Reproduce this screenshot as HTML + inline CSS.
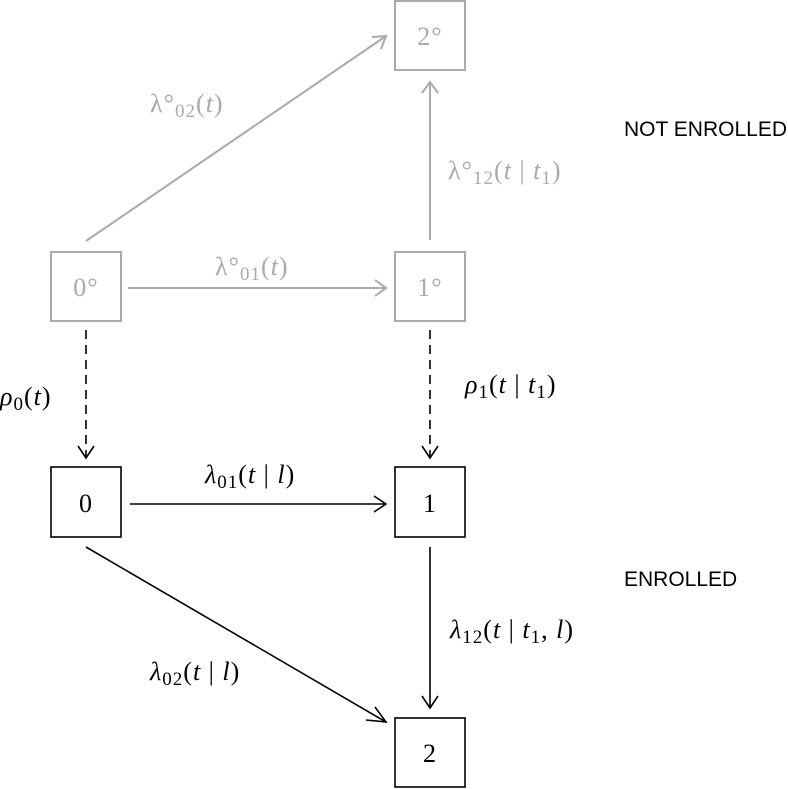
<!DOCTYPE html>
<html><head><meta charset="utf-8"><style>
html,body{margin:0;padding:0;background:#fff;}
svg{display:block}
.g{fill:#aaa;}
.b{fill:#000;}
text{font-family:"Liberation Serif",serif;font-size:26px;letter-spacing:1px;}
.it{font-style:italic;}
.sans{font-family:"Liberation Sans",sans-serif;font-size:21px;letter-spacing:0;}
</style></head><body>
<svg width="788" height="789" viewBox="0 0 788 789" xmlns="http://www.w3.org/2000/svg">
<g fill="none" stroke="#aaa" stroke-width="2">
<rect x="395" y="1" width="70" height="69"/>
<rect x="51" y="252" width="70" height="69"/>
<rect x="395" y="252" width="70" height="69"/>
<line x1="128" y1="288" x2="386" y2="288"/>
<polyline points="375,280 386,288 375,296"/>
<line x1="86" y1="241" x2="386" y2="36"/>
<polyline points="372,37 386,36 381,49"/>
<line x1="430" y1="240" x2="430" y2="82"/>
<polyline points="422,93 430,82 438,93"/>
</g>
<g fill="none" stroke="#000" stroke-width="1.6">
<rect x="51" y="467" width="70" height="70"/>
<rect x="395" y="467" width="70" height="70"/>
<rect x="395" y="718" width="70" height="69"/>
<line x1="86" y1="330" x2="86" y2="457" stroke-dasharray="9,6"/>
<polyline points="78,446 86,458 94,446"/>
<line x1="430" y1="330" x2="430" y2="457" stroke-dasharray="9,6"/>
<polyline points="422,446 430,458 438,446"/>
<line x1="130" y1="504" x2="386" y2="504"/>
<polyline points="374,496 386,504 374,512"/>
<line x1="430" y1="547" x2="430" y2="708"/>
<polyline points="422,696 430,708 438,696"/>
<line x1="86" y1="547" x2="386" y2="722"/>
<polyline points="366,720 386,722 375,707"/>
</g>
<g class="g">
<text x="430" y="45" text-anchor="middle">2°</text>
<text x="86" y="296" text-anchor="middle">0°</text>
<text x="430" y="296" text-anchor="middle">1°</text>
<text x="150" y="112">λ°<tspan font-size="19" dy="5">02</tspan><tspan dy="-5">(</tspan><tspan class="it">t</tspan>)</text>
<text x="448" y="179">λ°<tspan font-size="19" dy="5">12</tspan><tspan dy="-5">(</tspan><tspan class="it">t</tspan> | <tspan class="it">t</tspan><tspan font-size="19" dy="5">1</tspan><tspan dy="-5">)</tspan></text>
<text x="215" y="275">λ°<tspan font-size="19" dy="5">01</tspan><tspan dy="-5">(</tspan><tspan class="it">t</tspan>)</text>
</g>
<g class="b">
<text x="86" y="512" text-anchor="middle">0</text>
<text x="430" y="512" text-anchor="middle">1</text>
<text x="430" y="762" text-anchor="middle">2</text>
<text x="0" y="405" class="it">ρ<tspan font-size="19" dy="5" font-style="normal">0</tspan><tspan dy="-5" font-style="normal">(</tspan>t<tspan font-style="normal">)</tspan></text>
<text x="465" y="393" class="it">ρ<tspan font-size="19" dy="5" font-style="normal">1</tspan><tspan dy="-5" font-style="normal">(</tspan>t<tspan font-style="normal"> | </tspan>t<tspan font-size="19" dy="5" font-style="normal">1</tspan><tspan dy="-5" font-style="normal">)</tspan></text>
<text x="205" y="483" class="it">λ<tspan font-size="19" dy="5" font-style="normal">01</tspan><tspan dy="-5" font-style="normal">(</tspan>t<tspan font-style="normal"> | </tspan>l<tspan font-style="normal">)</tspan></text>
<text x="450" y="638" class="it">λ<tspan font-size="19" dy="5" font-style="normal">12</tspan><tspan dy="-5" font-style="normal">(</tspan>t<tspan font-style="normal"> | </tspan>t<tspan font-size="19" dy="5" font-style="normal">1</tspan><tspan dy="-5" font-style="normal">, </tspan>l<tspan font-style="normal">)</tspan></text>
<text x="150" y="680" class="it">λ<tspan font-size="19" dy="5" font-style="normal">02</tspan><tspan dy="-5" font-style="normal">(</tspan>t<tspan font-style="normal"> | </tspan>l<tspan font-style="normal">)</tspan></text>
<text x="624" y="136" class="sans">NOT ENROLLED</text>
<text x="624" y="586" class="sans">ENROLLED</text>
</g>
</svg>
</body></html>
